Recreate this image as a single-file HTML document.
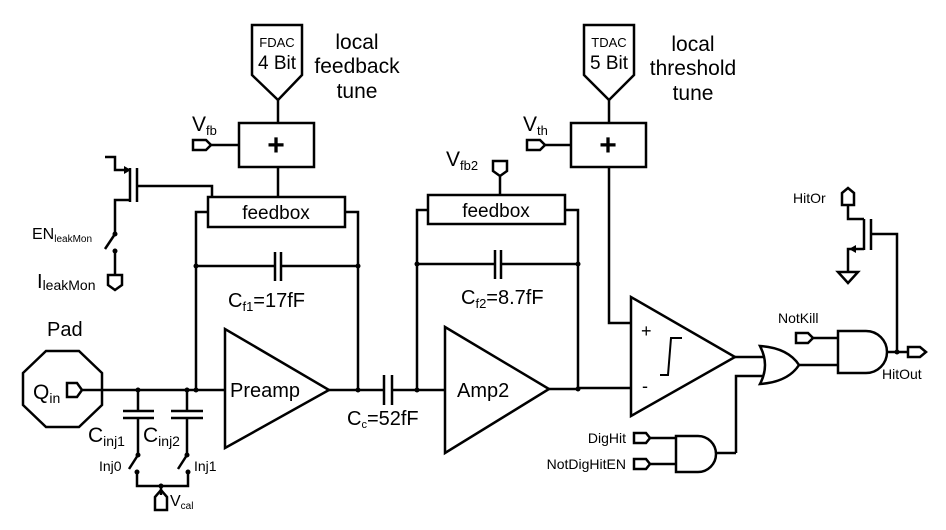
<!DOCTYPE html>
<html><head><meta charset="utf-8"><style>
html,body{margin:0;padding:0;background:#fff;}
svg{display:block;}
text{font-family:"Liberation Sans",Arial,sans-serif;fill:#000;}
</style></head><body>
<svg width="946" height="530" viewBox="0 0 946 530" xmlns="http://www.w3.org/2000/svg">
<g fill="none" stroke="#000" stroke-width="2.5" stroke-linejoin="miter">
<polygon points="252,25 302,25 302,75 278,100 252,75"/>
<line x1="278" y1="100" x2="278" y2="123"/>
<rect x="239" y="123" width="75" height="44"/>
<line x1="278" y1="167" x2="278" y2="197"/>
<polygon points="193,140 206,140 211,145 206,150 193,150"/>
<line x1="211" y1="145" x2="239" y2="145"/>
<rect x="208" y="197" width="137" height="30"/>
<polyline points="208,212 196,212 196,390"/>
<polyline points="345,212 358,212 358,390"/>
<line x1="196" y1="266" x2="275" y2="266"/>
<line x1="281" y1="266" x2="358" y2="266"/>
<line x1="275" y1="252" x2="275" y2="281"/>
<line x1="281" y1="252" x2="281" y2="281"/>
<polyline points="105,157 115,157 115,170 128,170"/>
<line x1="130" y1="168" x2="130" y2="202"/>
<line x1="137" y1="168" x2="137" y2="202"/>
<polyline points="137,186 212,186 212,197"/>
<polyline points="130,200 115,200 115,234"/>
<line x1="115" y1="234" x2="105" y2="249"/>
<line x1="115" y1="251" x2="115" y2="275"/>
<polygon points="108,275 122,275 122,285 115,290 108,285"/>
<polygon points="46,351 79,351 102,373 102,405 79,427 46,427 23,405 23,373"/>
<polygon points="67,383 77,383 82,390 77,397 67,397"/>
<line x1="82" y1="390" x2="225" y2="390"/>
<line x1="138" y1="390" x2="138" y2="411"/>
<line x1="123" y1="411" x2="154" y2="411"/>
<line x1="123" y1="418" x2="154" y2="418"/>
<line x1="138" y1="418" x2="138" y2="455"/>
<line x1="138" y1="455" x2="129" y2="469"/>
<line x1="187" y1="390" x2="187" y2="411"/>
<line x1="171" y1="411" x2="203" y2="411"/>
<line x1="171" y1="418" x2="203" y2="418"/>
<line x1="187" y1="418" x2="187" y2="455"/>
<line x1="187" y1="455" x2="178" y2="469"/>
<polyline points="137,472 137,486 188,486 188,472"/>
<line x1="161" y1="486" x2="161" y2="495"/>
<polygon points="155,510 155,497 161,490 167,497 167,510"/>
<polygon points="225,329 225,448 329,390"/>
<line x1="329" y1="390" x2="384" y2="390"/>
<line x1="384" y1="375" x2="384" y2="405"/>
<line x1="392" y1="375" x2="392" y2="405"/>
<line x1="392" y1="390" x2="445" y2="390"/>
<rect x="428" y="195" width="137" height="29"/>
<line x1="500" y1="176" x2="500" y2="195"/>
<polygon points="493,161 507,161 507,171 500,176 493,171"/>
<polyline points="428,210 417,210 417,390"/>
<polyline points="565,210 578,210 578,389"/>
<line x1="417" y1="264" x2="495" y2="264"/>
<line x1="501" y1="264" x2="578" y2="264"/>
<line x1="495" y1="250" x2="495" y2="279"/>
<line x1="501" y1="250" x2="501" y2="279"/>
<polygon points="445,327 445,453 549,389"/>
<polyline points="549,389 578,389 578,388 631,388"/>
<polygon points="584,25 634,25 634,75 609,100 584,75"/>
<line x1="609" y1="100" x2="609" y2="123"/>
<rect x="571" y="123" width="75" height="44"/>
<polygon points="527,140 540,140 545,145 540,150 527,150"/>
<line x1="545" y1="145" x2="571" y2="145"/>
<polyline points="609,167 609,323 631,323"/>
<polygon points="631,297 631,416 735,357"/>
<polyline points="660,375 668,375 671,338 682,338" stroke-width="2"/>
<line x1="735" y1="357" x2="764" y2="357"/>
<polyline points="736,453 736,376 764,376"/>
<path d="M760,346 Q770,365 760,384 Q788,382 799,365 Q788,348 760,346 Z"/>
<line x1="799" y1="365" x2="838" y2="365"/>
<path d="M676,436 L698,436 A18,18 0 0 1 698,472 L676,472 Z"/>
<line x1="716" y1="453" x2="736" y2="453"/>
<polygon points="634,433 646,433 650,438 646,443 634,443"/>
<line x1="650" y1="438" x2="676" y2="438"/>
<polygon points="634,459 646,459 650,464 646,469 634,469"/>
<line x1="650" y1="464" x2="676" y2="464"/>
<path d="M838,331 L866,331 A21,21 0 0 1 866,373 L838,373 Z"/>
<polygon points="796,333 808,333 813,338 808,343 796,343"/>
<line x1="813" y1="338" x2="838" y2="338"/>
<line x1="887" y1="352" x2="908" y2="352"/>
<polygon points="908,347 920,347 926,352 920,357 908,357"/>
<polyline points="897,352 897,234 871,234"/>
<line x1="871" y1="219" x2="871" y2="250"/>
<line x1="864" y1="219" x2="864" y2="250"/>
<polyline points="864,219 848,219 848,206"/>
<polygon points="842,205 842,193 848,188 854,193 854,205"/>
<polyline points="864,249 848,249 848,272"/>
<polygon points="838,272 858,272 848,283"/>
</g>
<g fill="#000" stroke="none">
<polygon points="124,166 131,170 124,174"/>
<polygon points="856,245 849,249 856,253"/>
<circle cx="115" cy="234" r="2.5"/><circle cx="115" cy="251" r="2.5"/>
<circle cx="196" cy="266" r="2.5"/><circle cx="358" cy="266" r="2.5"/>
<circle cx="196" cy="390" r="2.5"/><circle cx="358" cy="390" r="2.5"/>
<circle cx="138" cy="390" r="2.5"/><circle cx="187" cy="390" r="2.5"/>
<circle cx="138" cy="455" r="2.5"/><circle cx="187" cy="455" r="2.5"/>
<circle cx="137" cy="472" r="2.5"/><circle cx="188" cy="472" r="2.5"/>
<circle cx="161" cy="486" r="2.5"/>
<circle cx="417" cy="390" r="2.5"/><circle cx="417" cy="264" r="2.5"/>
<circle cx="578" cy="264" r="2.5"/><circle cx="578" cy="389" r="2.5"/>
<circle cx="897" cy="352" r="2.5"/>
</g>
<text x="277" y="47" font-size="13" text-anchor="middle">FDAC</text>
<text x="277" y="69" font-size="19" text-anchor="middle">4 Bit</text>
<text x="609" y="47" font-size="13" text-anchor="middle">TDAC</text>
<text x="609" y="69" font-size="19" text-anchor="middle">5 Bit</text>
<text font-size="21" text-anchor="middle"><tspan x="357" y="49">local</tspan><tspan x="357" y="73">feedback</tspan><tspan x="357" y="98">tune</tspan></text>
<text font-size="21" text-anchor="middle"><tspan x="693" y="51">local</tspan><tspan x="693" y="75">threshold</tspan><tspan x="693" y="100">tune</tspan></text>
<text x="276" y="155" font-size="30" font-weight="bold" text-anchor="middle">+</text>
<text x="608" y="155" font-size="30" font-weight="bold" text-anchor="middle">+</text>
<text x="192" y="131" font-size="21">V<tspan font-size="13" dy="4">fb</tspan></text>
<text x="523" y="131" font-size="21">V<tspan font-size="13" dy="4">th</tspan></text>
<text x="446" y="166" font-size="21">V<tspan font-size="13" dy="4">fb2</tspan></text>
<text x="276" y="219" font-size="19" text-anchor="middle">feedbox</text>
<text x="496" y="217" font-size="19" text-anchor="middle">feedbox</text>
<text x="32" y="239" font-size="16">EN<tspan font-size="10" dy="3">leakMon</tspan></text>
<text x="37" y="288" font-size="20">I<tspan font-size="14" dy="2">leakMon</tspan></text>
<text x="228" y="307" font-size="20">C<tspan font-size="13" dy="4">f1</tspan><tspan dy="-4">=17fF</tspan></text>
<text x="461" y="304" font-size="20">C<tspan font-size="13" dy="4">f2</tspan><tspan dy="-4">=8.7fF</tspan></text>
<text x="347" y="425" font-size="20">C<tspan font-size="11" dy="3">c</tspan><tspan dy="-3">=52fF</tspan></text>
<text x="47" y="336" font-size="20">Pad</text>
<text x="33" y="399" font-size="21">Q<tspan font-size="14" dy="4">in</tspan></text>
<text x="230" y="397" font-size="20">Preamp</text>
<text x="457" y="397" font-size="20">Amp2</text>
<text x="88" y="442" font-size="21">C<tspan font-size="14" dy="4">inj1</tspan></text>
<text x="143" y="442" font-size="21">C<tspan font-size="14" dy="4">inj2</tspan></text>
<text x="99" y="471" font-size="14">Inj0</text>
<text x="194" y="471" font-size="14">Inj1</text>
<text x="170" y="506" font-size="16">V<tspan font-size="10" dy="3">cal</tspan></text>
<text x="641" y="337" font-size="18">+</text>
<text x="642" y="392" font-size="18">-</text>
<text x="626" y="443" font-size="14" text-anchor="end">DigHit</text>
<text x="626" y="469" font-size="14" text-anchor="end">NotDigHitEN</text>
<text x="778" y="323" font-size="14">NotKill</text>
<text x="882" y="379" font-size="14">HitOut</text>
<text x="793" y="203" font-size="14">HitOr</text>
</svg>
</body></html>
